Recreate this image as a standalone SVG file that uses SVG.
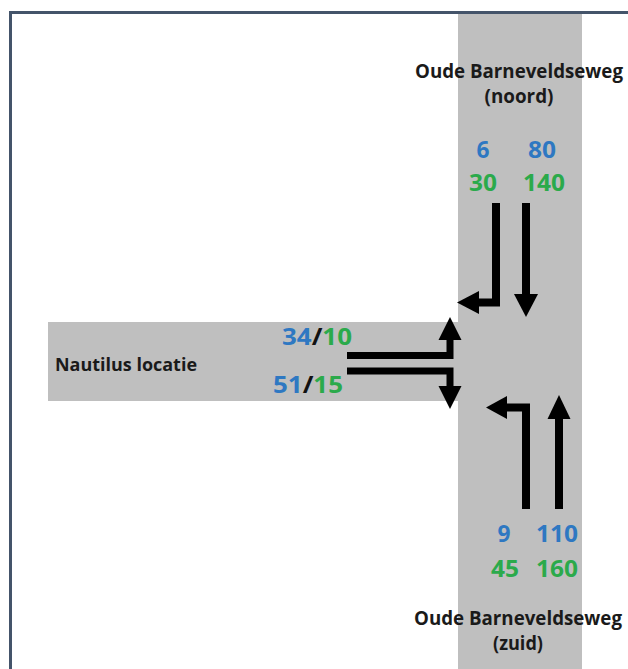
<svg xmlns="http://www.w3.org/2000/svg" width="628" height="669" viewBox="0 0 628 669">
<style>
.road{fill:#BFBFBF}
.lbl{font-family:"Open Sans","Liberation Sans",sans-serif;font-weight:700;fill:#1a1a1a;text-anchor:middle}
.num{font-family:"Open Sans","Liberation Sans",sans-serif;font-weight:700;font-size:22.5px;text-anchor:middle}
.b{fill:#2E78C2}
.g{fill:#2BAA4B}
.k{fill:#111}
.ln{fill:none;stroke:#000;stroke-width:8}
.ln2{fill:none;stroke:#000;stroke-width:7}
.hd{fill:#000}
</style>
<rect width="628" height="669" fill="#ffffff"/>
<path d="M10.5,669 V12.5 H628" fill="none" stroke="#44546A" stroke-width="3"/>
<g id="road-barneveldseweg"><rect class="road" x="458" y="14" width="124" height="655"/></g>
<g id="road-nautilus"><rect class="road" x="48" y="322" width="410" height="79"/>
<text class="lbl" x="55" y="371" font-size="18" style="text-anchor:start" textLength="142" lengthAdjust="spacingAndGlyphs">Nautilus locatie</text></g>
<g id="label-noord">
<text class="lbl" x="519" y="78" font-size="19" textLength="208" lengthAdjust="spacingAndGlyphs">Oude Barneveldseweg</text>
<text class="lbl" x="519" y="103" font-size="19" textLength="69" lengthAdjust="spacingAndGlyphs">(noord)</text>
</g>
<g id="counts-noord">
<text class="num b" x="483" y="158" textLength="13" lengthAdjust="spacingAndGlyphs">6</text>
<text class="num b" x="542" y="158" textLength="28" lengthAdjust="spacingAndGlyphs">80</text>
<text class="num g" x="483" y="191" textLength="28" lengthAdjust="spacingAndGlyphs">30</text>
<text class="num g" x="544" y="191" textLength="42" lengthAdjust="spacingAndGlyphs">140</text>
</g>
<g id="counts-nautilus">
<text class="num" x="282" y="345" style="text-anchor:start" textLength="70" lengthAdjust="spacingAndGlyphs"><tspan class="b">34</tspan><tspan class="k">/</tspan><tspan class="g">10</tspan></text>
<text class="num" x="273" y="393" style="text-anchor:start" textLength="70" lengthAdjust="spacingAndGlyphs"><tspan class="b">51</tspan><tspan class="k">/</tspan><tspan class="g">15</tspan></text>
</g>
<g id="counts-zuid">
<text class="num b" x="504" y="542" textLength="13" lengthAdjust="spacingAndGlyphs">9</text>
<text class="num b" x="557" y="542" textLength="42" lengthAdjust="spacingAndGlyphs">110</text>
<text class="num g" x="505" y="577" textLength="28" lengthAdjust="spacingAndGlyphs">45</text>
<text class="num g" x="557" y="577" textLength="42" lengthAdjust="spacingAndGlyphs">160</text>
</g>
<g id="label-zuid">
<text class="lbl" x="518" y="625" font-size="19" textLength="208" lengthAdjust="spacingAndGlyphs">Oude Barneveldseweg</text>
<text class="lbl" x="518" y="650" font-size="19" textLength="50" lengthAdjust="spacingAndGlyphs">(zuid)</text>
</g>
<g id="connectors">
<path class="ln" d="M496,203 V302.5 H476"/>
<polygon class="hd" points="479,291 479,314 457,302.5"/>
<path class="ln" d="M526,203 V296"/>
<polygon class="hd" points="514,294 538,294 526,317"/>
<path class="ln" d="M526,509 V407.5 H505"/>
<polygon class="hd" points="507,396 507,419 486,407.5"/>
<path class="ln" d="M559,509 V418"/>
<polygon class="hd" points="547.5,419 570.5,419 559,395"/>
<path class="ln2" d="M347,355.5 H450 V338"/>
<polygon class="hd" points="438.5,340 461.5,340 450,317"/>
<path class="ln2" d="M347,371 H450 V388"/>
<polygon class="hd" points="438.5,386 461.5,386 450,409"/>
</g>
</svg>
